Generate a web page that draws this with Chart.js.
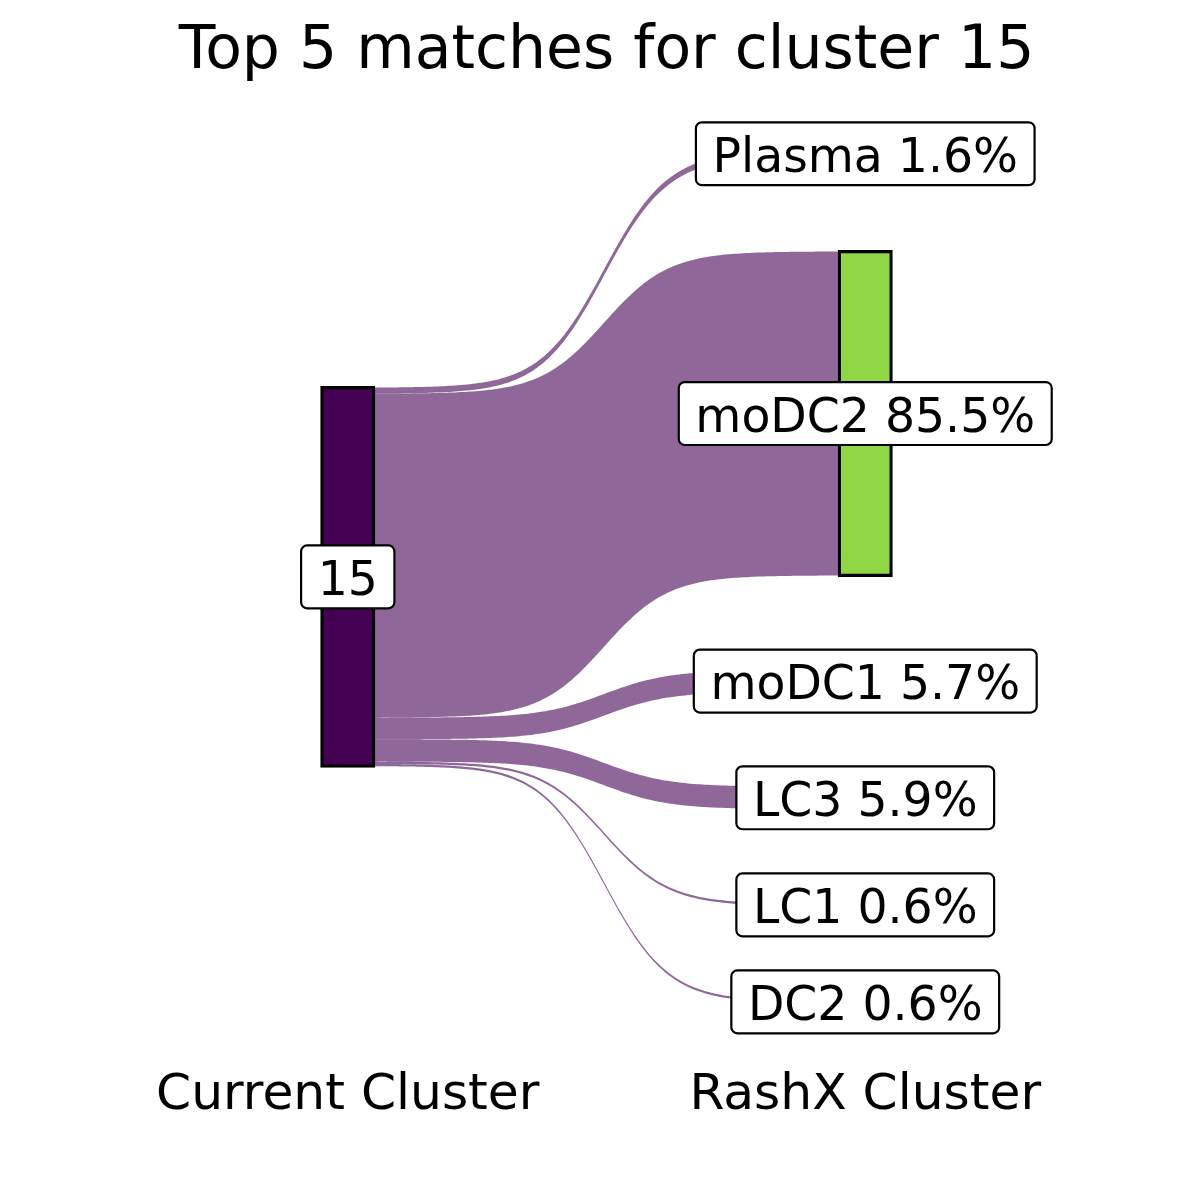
<!DOCTYPE html>
<html><head><meta charset="utf-8">
<script src="https://cdn.jsdelivr.net/npm/chart.js@4"></script>
<style>html,body{margin:0;padding:0;background:#fff}canvas{display:block}</style>
</head><body>
<canvas id="c" width="1200" height="1200"></canvas>
<script>
// ---------- data ----------
const titleText = 'Top 5 matches for cluster 15';
const sourceCluster = '15';
const axisLabels = ['Current Cluster', 'RashX Cluster'];
const targets = ['Plasma', 'moDC2', 'moDC1', 'LC3', 'LC1', 'DC2'];
const percents = [1.6, 85.5, 5.7, 5.9, 0.6, 0.6];
const drawnTarget = 'moDC2';

// ---------- layout / style ----------
const GAP = 25;               // gap between right strata (percent units)
const Y_MIN = -129, Y_MAX = 123.7;
const FONT = 'DejaVu Sans';
const FLOW = 'rgba(68,1,84,0.6)';
const LABEL_SIZE = 47.3;

const total = percents.reduce((a, b) => a + b, 0);
const leftSeg = []; let acc = -total / 2;
percents.forEach(p => { leftSeg.push([acc, acc + p]); acc += p; });
const rightTotal = total + GAP * (targets.length - 1);
const rightSeg = []; acc = -rightTotal / 2;
percents.forEach(p => { rightSeg.push([acc, acc + p]); acc += p + GAP; });
const di = targets.indexOf(drawnTarget);

function ease(s) {
  const k = 14.5, c = 0.495;
  const L = x => 1 / (1 + Math.exp(-k * (x - c)));
  return (L(s) - L(0)) / (L(1) - L(0));
}

const flowPlugin = {
  id: 'flows',
  beforeDatasetsDraw(chart) {
    const ctx = chart.ctx, ys = chart.scales.y;
    const bars = chart.getDatasetMeta(0).data;
    const x0 = bars[0].x + bars[0].width / 2;
    const x1 = bars[1].x - bars[1].width / 2;
    const N = 160;
    ctx.save();
    ctx.fillStyle = FLOW;
    for (let i = 0; i < percents.length; i++) {
      const a0 = ys.getPixelForValue(leftSeg[i][0]), b0 = ys.getPixelForValue(leftSeg[i][1]);
      const a1 = ys.getPixelForValue(rightSeg[i][0]), b1 = ys.getPixelForValue(rightSeg[i][1]);
      ctx.beginPath();
      for (let j = 0; j <= N; j++) {
        const s = j / N, f = ease(s);
        ctx.lineTo(x0 + (x1 - x0) * s, a0 + (a1 - a0) * f);
      }
      for (let j = N; j >= 0; j--) {
        const s = j / N, f = ease(s);
        ctx.lineTo(x0 + (x1 - x0) * s, b0 + (b1 - b0) * f);
      }
      ctx.closePath();
      ctx.fill();
    }
    ctx.restore();
  }
};

function drawLabel(ctx, text, cx, cy) {
  ctx.font = LABEL_SIZE + 'px "' + FONT + '"';
  const w = ctx.measureText(text).width + LABEL_SIZE * 0.7;
  const h = LABEL_SIZE * 1.33;
  ctx.beginPath();
  ctx.roundRect(cx - w / 2, cy - h / 2, w, h, 6);
  ctx.fillStyle = '#fff';
  ctx.fill();
  ctx.lineWidth = 2.2;
  ctx.strokeStyle = '#000';
  ctx.stroke();
  ctx.fillStyle = '#000';
  ctx.textAlign = 'center';
  ctx.textBaseline = 'alphabetic';
  ctx.fillText(text, cx, cy + LABEL_SIZE * 0.38);
}

const labelPlugin = {
  id: 'labels',
  afterDatasetsDraw(chart) {
    const ctx = chart.ctx, ys = chart.scales.y;
    const bars = chart.getDatasetMeta(0).data;
    ctx.save();
    drawLabel(ctx, sourceCluster, bars[0].x, ys.getPixelForValue(0));
    for (let i = 0; i < targets.length; i++) {
      const cy = ys.getPixelForValue((rightSeg[i][0] + rightSeg[i][1]) / 2);
      drawLabel(ctx, targets[i] + ' ' + percents[i].toFixed(1) + '%', bars[1].x, cy);
    }
    ctx.restore();
  }
};

new Chart(document.getElementById('c'), {
  type: 'bar',
  data: {
    labels: axisLabels,
    datasets: [{
      data: [[-total / 2, total / 2], rightSeg[di]],
      backgroundColor: ['#440154', '#8FD744'],
      borderColor: '#000',
      borderWidth: 3.2,
      borderSkipped: false,
      barThickness: 52,
      inflateAmount: 1.5
    }]
  },
  options: {
    responsive: false,
    animation: false,
    layout: { padding: { left: 89, right: 76, top: 0, bottom: 54 } },
    plugins: {
      legend: { display: false },
      tooltip: { enabled: false },
      title: {
        display: true, text: titleText, color: '#000',
        font: { family: FONT, size: 60, weight: 'normal' },
        padding: { top: 16, bottom: 0 }
      }
    },
    scales: {
      x: {
        grid: { display: false, drawTicks: false },
        border: { display: false },
        ticks: { color: '#000', padding: 20, maxRotation: 0, autoSkip: false,
                 font: { family: FONT, size: 50.3 } }
      },
      y: { display: false, reverse: true, min: Y_MIN, max: Y_MAX }
    }
  },
  plugins: [flowPlugin, labelPlugin]
});
</script>
</body></html>
